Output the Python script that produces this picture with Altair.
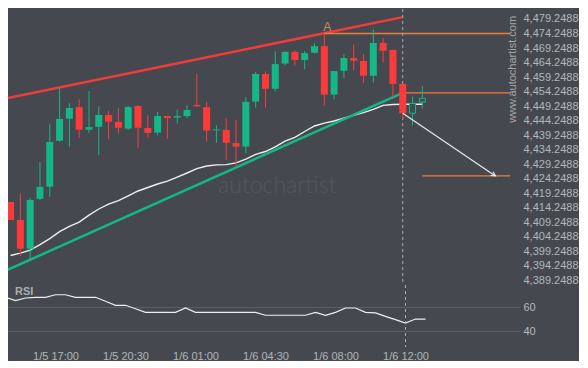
import altair as alt
import pandas as pd

BG = "#45494f"
RED = "#fb3b3b"
GREEN = "#13b886"
ORANGE = "#f47b3a"
LABEL = "#b3b6bb"

# ---- candles (30-min bars, index based) ----
opens = [4416.2, 4410.0, 4400.1, 4417.3, 4421.5, 4437.3, 4444.9, 4448.9, 4441.1, 4442.1,
         4446.2, 4443.8, 4441.5, 4449.3, 4441.7, 4440.1, 4445.8, 4445.3, 4445.8, 4449.6,
         4448.9, 4440.9, 4441.0, 4436.5, 4435.3, 4450.8, 4460.3, 4455.2, 4463.9, 4467.9,
         4465.1, 4467.6, 4469.9, 4453.2, 4461.4, 4465.8, 4464.8, 4459.7, 4471.0, 4468.6,
         4456.9, 4446.8, 4450.6]
highs = [4416.2, 4419.2, 4417.5, 4430.0, 4443.0, 4455.4, 4450.2, 4451.6, 4454.4, 4449.2,
         4447.6, 4448.5, 4449.3, 4449.6, 4446.1, 4447.2, 4445.8, 4448.1, 4449.6, 4460.4,
         4450.7, 4442.6, 4445.0, 4444.5, 4452.3, 4461.0, 4461.2, 4468.1, 4468.2, 4468.5,
         4468.2, 4470.9, 4474.2, 4461.3, 4467.1, 4470.5, 4467.1, 4475.7, 4472.6, 4468.6,
         4456.9, 4452.5, 4456.1]
lows = [4410.0, 4397.6, 4396.5, 4416.9, 4418.0, 4437.0, 4435.3, 4438.4, 4440.1, 4432.3,
        4437.8, 4439.9, 4441.0, 4434.9, 4438.4, 4439.2, 4438.0, 4443.2, 4445.1, 4449.0,
        4437.0, 4436.6, 4430.7, 4428.6, 4433.0, 4448.7, 4448.7, 4454.3, 4463.3, 4463.3,
        4461.9, 4467.3, 4449.5, 4451.6, 4458.8, 4461.6, 4457.2, 4457.4, 4464.2, 4452.5,
        4444.7, 4442.6, 4448.5]
closes = [4410.0, 4400.1, 4416.9, 4421.4, 4436.9, 4444.8, 4448.6, 4441.1, 4442.0, 4446.2,
          4443.9, 4441.8, 4448.9, 4441.8, 4440.0, 4445.8, 4445.1, 4445.8, 4447.9, 4449.2,
          4440.8, 4441.2, 4436.6, 4435.3, 4450.7, 4460.3, 4455.2, 4463.7, 4467.9, 4465.1,
          4467.5, 4469.9, 4453.2, 4461.3, 4465.8, 4464.9, 4459.7, 4471.0, 4468.3, 4456.9,
          4446.8, 4450.2, 4451.9]
hollow_idx = [41, 42]

ma_values = [4397.8, 4398.6, 4399.6, 4401.5, 4403.6, 4406.0, 4407.8, 4409.3, 4411.7, 4413.8,
             4415.5, 4416.7, 4418.3, 4420.0, 4421.2, 4422.4, 4423.4, 4424.8, 4426.2, 4427.7,
             4428.6, 4429.0, 4429.1, 4429.7, 4431.0, 4432.6, 4433.6, 4435.2, 4437.2, 4438.5,
             4440.5, 4442.4, 4443.4, 4444.1, 4445.1, 4446.1, 4447.0, 4448.1, 4449.5, 4449.8,
             4449.9, 4449.9, 4449.9]

rsi_values = [68.0, 65.2, 67.4, 68.0, 68.0, 70.1, 70.1, 68.0, 68.0, 68.0,
              64.7, 61.4, 61.4, 58.6, 55.6, 55.6, 55.6, 55.6, 59.2, 55.6,
              55.6, 55.6, 55.6, 55.6, 55.6, 55.6, 53.2, 53.2, 53.2, 53.2,
              53.2, 55.6, 53.2, 55.6, 59.2, 59.2, 55.6, 55.1, 52.3, 49.6,
              46.8, 50.1, 50.1]

# pattern lines
res_k = [-1, 40]
res_p = [4451.5, 4479.9]
sup_k = [-1, 40]
sup_p = [4391.8, 4453.8]

# orange levels
lvl_k1 = [32, 40, 42]
lvl_k2 = [50.95, 50.95, 50.95]
lvl_p = [4474.25, 4453.8, 4425.2]

# forecast arrow
arrow_k = [40, 49.45]
arrow_p = [4446.8, 4425.2]

# axes
price_ticks = [4389.2488, 4394.2488, 4399.2488, 4404.2488, 4409.2488, 4414.2488,
               4419.2488, 4424.2488, 4429.2488, 4434.2488, 4439.2488, 4444.2488,
               4449.2488, 4454.2488, 4459.2488, 4464.2488, 4469.2488, 4474.2488,
               4479.2488]
time_ks = [5, 12, 19, 26, 33, 40]
time_labels = ["1/5 17:00", "1/5 20:30", "1/6 01:00", "1/6 04:30", "1/6 08:00", "1/6 12:00"]
rsi_ticks = [40, 60]
now_k = 40

# ---------------------------------------------------------------
n = len(opens)
df = pd.DataFrame({"k": list(range(n)), "open": opens, "high": highs,
                   "low": lows, "close": closes})
df["dir"] = ["up" if c >= o else "down" for o, c in zip(opens, closes)]
df["hollow"] = df["k"].isin(hollow_idx)
ma_df = pd.DataFrame({"k": list(range(n)), "ma": ma_values})
rsi_df = pd.DataFrame({"k": list(range(n)), "rsi": rsi_values})

xs = alt.Scale(domain=[0.25, 51.45], nice=False, zero=False)
ys = alt.Scale(domain=[4387.62, 4482.69], nice=False, zero=False)
rs = alt.Scale(domain=[27.1, 78.1], nice=False, zero=False)
cs = alt.Scale(domain=["up", "down"], range=[GREEN, RED])

X = alt.X("k:Q", scale=xs, axis=None)
base = alt.Chart(df)

price_axis = alt.Axis(orient="right", values=price_ticks, format=",.4f", title=None,
                      labelColor=LABEL, labelFont="Arial", labelFontSize=11,
                      labelOverlap=False, labelBound=False,
                      domain=False, ticks=False, grid=False, labelPadding=3)


def Yp(field):
    return alt.Y(field, scale=ys, axis=price_axis)


wicks = base.mark_rule(strokeWidth=1, clip=True).encode(
    x=X, y=Yp("low:Q"), y2="high:Q",
    color=alt.Color("dir:N", scale=cs, legend=None))
bodies = base.transform_filter("!datum.hollow").mark_bar(size=7, clip=True).encode(
    x=X, y=Yp("open:Q"), y2="close:Q",
    color=alt.Color("dir:N", scale=cs, legend=None))
hollows = base.transform_filter("datum.hollow").mark_bar(
    size=6, fill=BG, stroke=GREEN, strokeWidth=1, clip=True).encode(
    x=X, y=Yp("open:Q"), y2="close:Q")

ma_line = alt.Chart(ma_df).mark_line(color="#eeeeee", strokeWidth=1.4, clip=True).encode(
    x=X, y=Yp("ma:Q"))

res_line = alt.Chart(pd.DataFrame({"k": res_k, "p": res_p})).mark_line(
    color="#f23b3b", strokeWidth=2.5, clip=True).encode(x=X, y=Yp("p:Q"))
sup_line = alt.Chart(pd.DataFrame({"k": sup_k, "p": sup_p})).mark_line(
    color="#14b884", strokeWidth=2.5, clip=True).encode(x=X, y=Yp("p:Q"))

levels = alt.Chart(pd.DataFrame({"k1": lvl_k1, "k2": lvl_k2, "p": lvl_p})).mark_rule(
    color=ORANGE, strokeWidth=1.3).encode(
    x=alt.X("k1:Q", scale=xs, axis=None), x2="k2:Q", y=Yp("p:Q"))

arrow_df = pd.DataFrame({"k1": [arrow_k[0]], "k2": [arrow_k[1]],
                         "p1": [arrow_p[0]], "p2": [arrow_p[1]]})
arrow_line = alt.Chart(arrow_df).mark_rule(color="#e8e8e8", strokeWidth=1.2).encode(
    x=alt.X("k1:Q", scale=xs, axis=None), x2="k2:Q",
    y=Yp("p1:Q"), y2="p2:Q")
arrow_head = alt.Chart(arrow_df).mark_point(
    shape="M -1 -0.55 L 0 0 L -1 0.55", size=70, filled=False, color="#e8e8e8",
    strokeWidth=1.2, angle=33.6, opacity=1).encode(
    x=alt.X("k2:Q", scale=xs, axis=None), y=Yp("p2:Q"))

now_df = pd.DataFrame({"k": [now_k]})
now_rule = alt.Chart(now_df).mark_rule(color="#a8abb0", strokeDash=[3, 3], strokeWidth=1).encode(x=X)

txt_df = pd.DataFrame({"k": [32.3, 27.2, 51.2], "p": [4476.4, 4421.7, 4461.9],
                       "t": ["A", "autochartist", "www.autochartist.com"]})
label_a = alt.Chart(txt_df.iloc[[0]]).mark_text(
    color="#c98a63", fontSize=12, font="Arial", baseline="middle").encode(
    x=X, y=Yp("p:Q"), text="t:N")
watermark = alt.Chart(txt_df.iloc[[1]]).mark_text(
    color="#53575d", fontSize=23, font="Lato", fontWeight=300, baseline="middle").encode(
    x=X, y=Yp("p:Q"), text="t:N")
site = alt.Chart(txt_df.iloc[[2]]).mark_text(
    color="#a2a5aa", fontSize=11, font="Arial", angle=270, baseline="middle").encode(
    x=X, y=Yp("p:Q"), text="t:N")

price = alt.layer(watermark, ma_line, res_line, sup_line, levels, now_rule, wicks, bodies,
                  hollows, arrow_line, arrow_head, label_a, site).properties(
    width=512, height=276)

# ---- RSI panel ----
label_expr = " : ".join(f"datum.value == {k} ? '{t}'" for k, t in zip(time_ks, time_labels)) + " : ''"
x_axis = alt.Axis(values=time_ks, labelExpr=label_expr, title=None, labelColor=LABEL,
                  labelFont="Arial", labelFontSize=11, domain=False, ticks=False,
                  grid=False, labelPadding=3)
rsi_axis = alt.Axis(orient="right", values=rsi_ticks, title=None, labelColor=LABEL,
                    labelFont="Arial", labelFontSize=11, domain=False, ticks=False,
                    grid=True, gridColor="#5b5f65", gridWidth=1, labelPadding=3)

rsi_line = alt.Chart(rsi_df).mark_line(color="#eeeeee", strokeWidth=1.2, clip=True).encode(
    x=alt.X("k:Q", scale=xs, axis=x_axis), y=alt.Y("rsi:Q", scale=rs, axis=rsi_axis))
rsi_now = alt.Chart(now_df).mark_rule(color="#a8abb0", strokeDash=[3, 3], strokeWidth=1).encode(
    x=alt.X("k:Q", scale=xs, axis=x_axis))
rsi_txt = alt.Chart(pd.DataFrame({"k": [0.95], "r": [72.6], "t": ["RSI"]})).mark_text(
    align="left", baseline="middle", color="#a9acb1", fontSize=11, font="Arial",
    fontWeight="bold").encode(x=alt.X("k:Q", scale=xs, axis=x_axis),
                              y=alt.Y("r:Q", scale=rs, axis=rsi_axis), text="t:N")

rsi = alt.layer(rsi_line, rsi_now, rsi_txt).properties(width=512, height=62)

chart = alt.vconcat(price, rsi, spacing=0, bounds="flush").properties(
    background=BG, padding=0
).configure_view(stroke=None).configure_axis(labelOverlap=False)

chart.save("out.html", embed_options={"renderer": "svg", "actions": False})
